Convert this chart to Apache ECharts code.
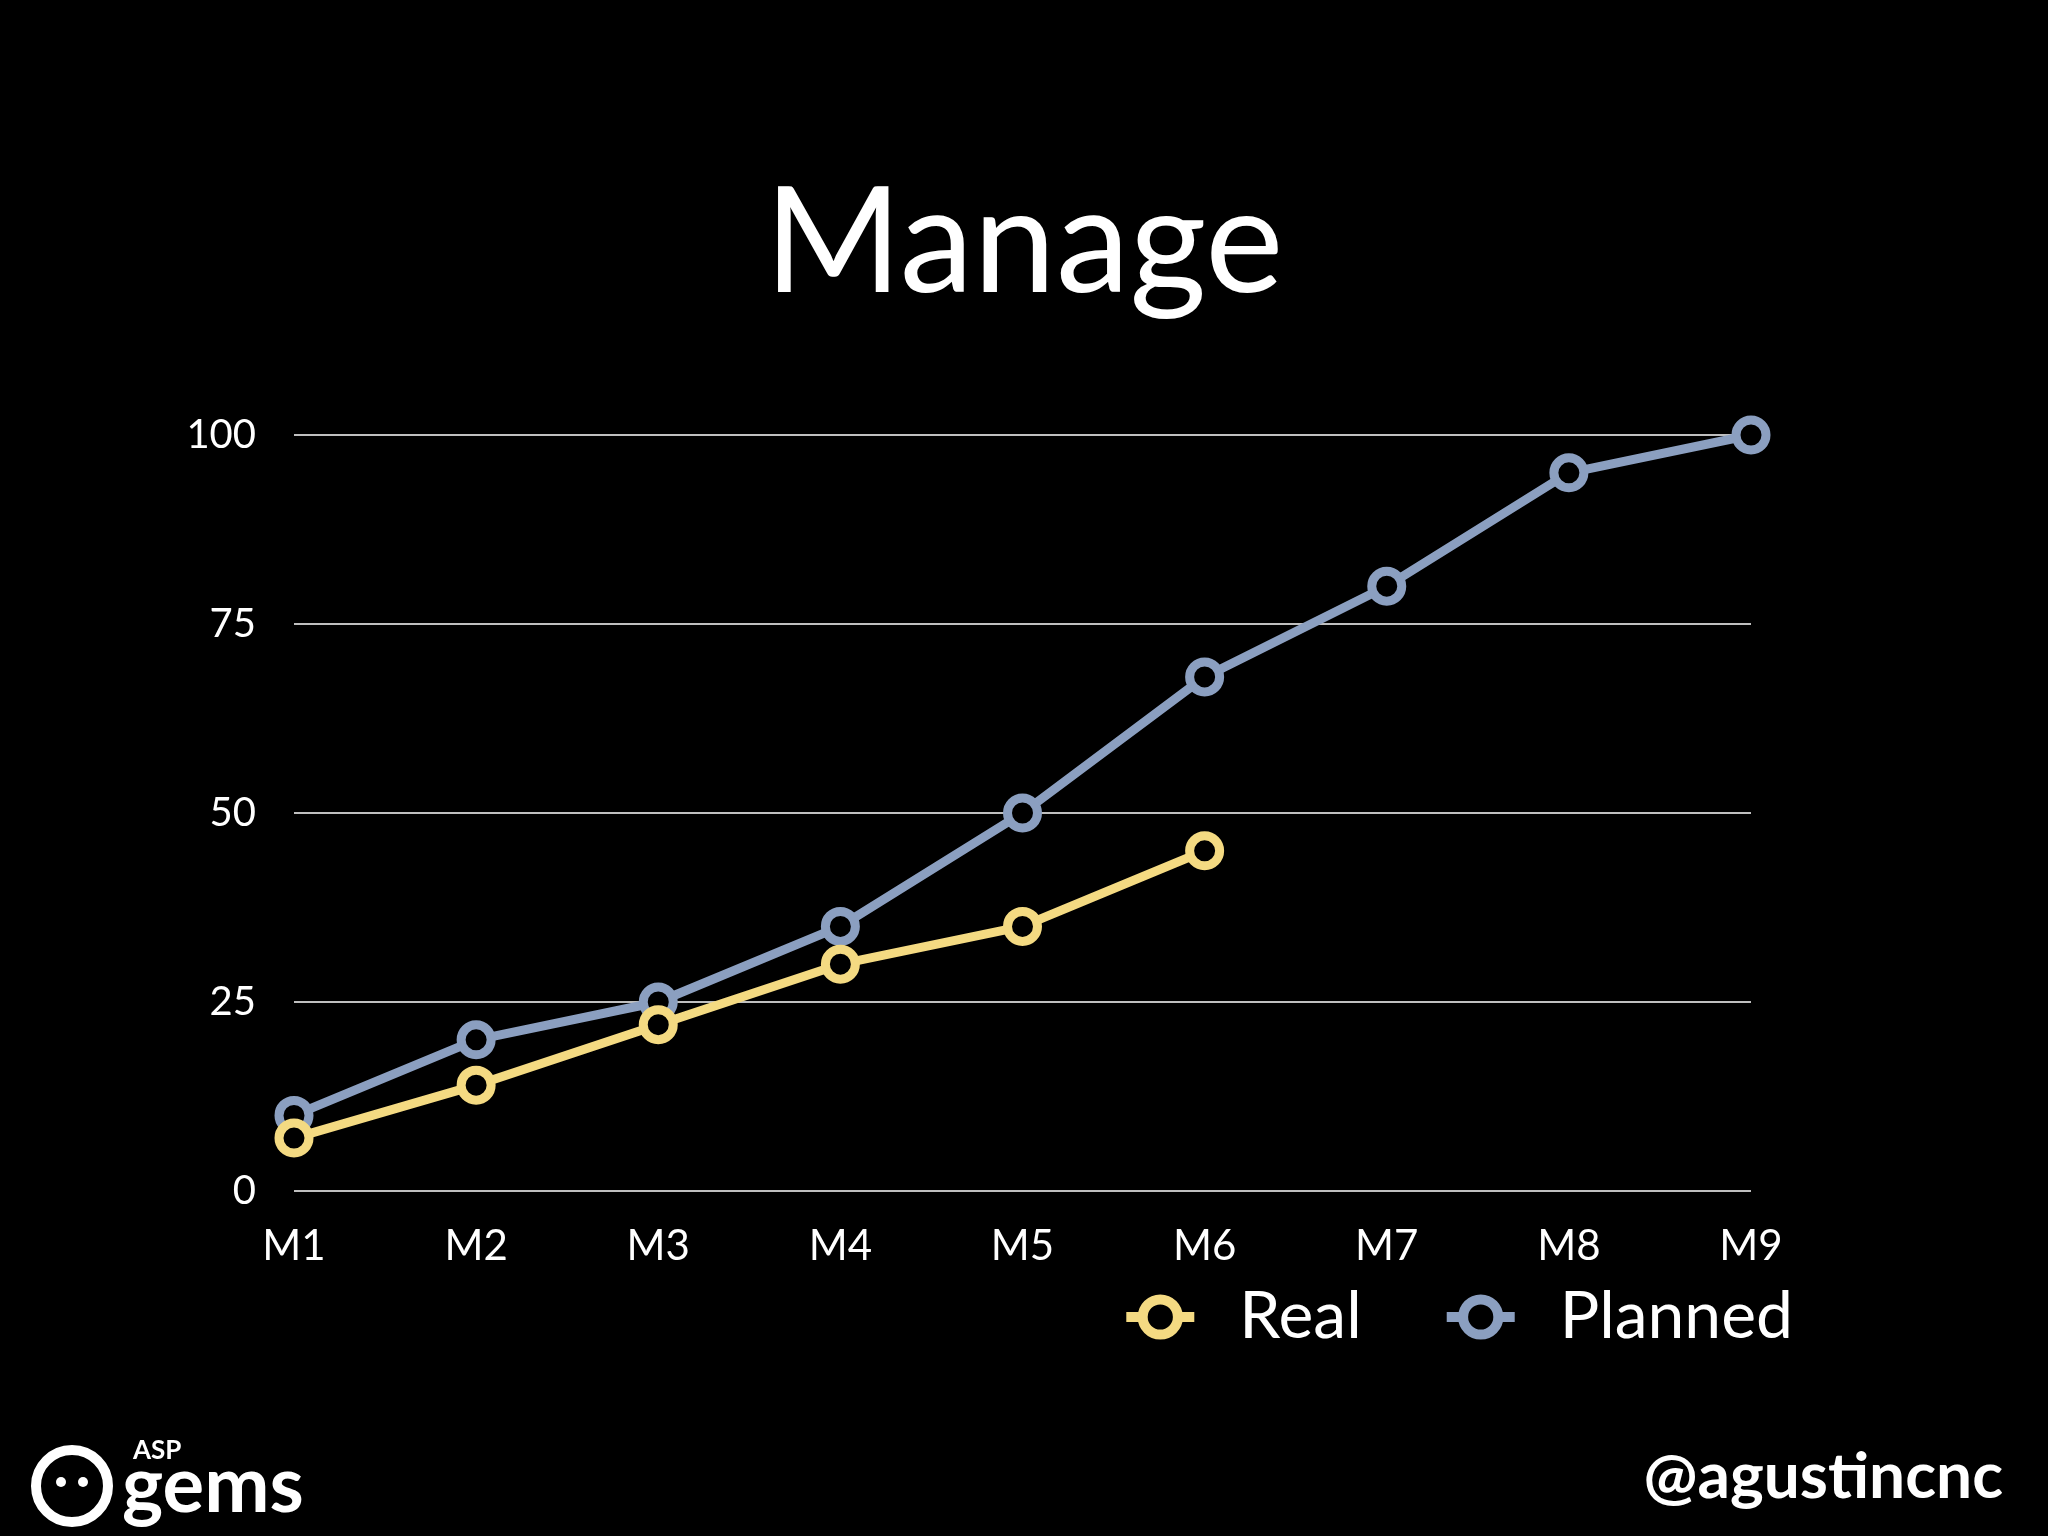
<!DOCTYPE html>
<html><head><meta charset="utf-8">
<script src="https://cdn.jsdelivr.net/npm/echarts@6/dist/echarts.min.js"></script>
<style>html,body{margin:0;background:#000}#c{width:2048px;height:1536px}</style>
</head><body><div id="c"></div>
<script>
const categories = ['M1','M2','M3','M4','M5','M6','M7','M8','M9'];
const realValues = [7,14,22,30,35,45];
const plannedValues = [10,20,25,35,50,68,80,95,100];
const yTicks = [0,25,50,75,100];

const chart = echarts.init(document.getElementById('c'));
const F = 'Lato, "Open Sans", sans-serif';
const ring = (color) => ({
  type:'line', symbol:'circle', symbolSize:30,
  lineStyle:{color, width:9},
  itemStyle:{color:'#000', borderColor:color, borderWidth:9},
});
chart.setOption({
  backgroundColor:'#000',
  animation:false,
  title:{text:'Manage', left:'center', top:165,
    textStyle:{color:'#fff', fontSize:148, fontWeight:'normal', fontFamily:F}},
  grid:{left:294, right:297, top:435, bottom:345},
  legend:{data:['Real','Planned'], right:250, top:1279, itemWidth:68, itemHeight:44, itemGap:80,
    lineStyle:{width:10}, itemStyle:{borderWidth:10},
    textStyle:{color:'#fff', fontSize:66, fontFamily:F, padding:[0,0,0,40]}},
  xAxis:{type:'category', data:categories, boundaryGap:false,
    axisLine:{show:false}, axisTick:{show:false},
    axisLabel:{color:'#fff', fontSize:42, fontFamily:F, margin:34}},
  yAxis:{type:'value', min:0, max:100, interval:25,
    axisLabel:{color:'#fff', fontSize:40, fontFamily:F, margin:38,
      formatter:v=>yTicks.includes(v)?String(v):''},
    splitLine:{lineStyle:{color:'#fff', width:1.5}}},
  series:[
    Object.assign(ring('#f4da82'), {name:'Real', data:realValues, z:3}),
    Object.assign(ring('#8b9fc0'), {name:'Planned', data:plannedValues, z:2})
  ],
  graphic:[
    {type:'circle', shape:{cx:72, cy:1486, r:36}, style:{fill:'none', stroke:'#fff', lineWidth:10}},
    {type:'circle', shape:{cx:61, cy:1482, r:5}, style:{fill:'#fff'}},
    {type:'circle', shape:{cx:83, cy:1482, r:5}, style:{fill:'#fff'}},
    {type:'text', left:133, top:1438, style:{text:'ASP', fill:'#fff', font:'bold 26px '+F}},
    {type:'text', left:122, top:1448, style:{text:'gems', fill:'#fff', font:'bold 78px '+F}},
    {type:'text', right:45, top:1445, style:{text:'@agustincnc', fill:'#fff', font:'bold 64px '+F}}
  ]
});
</script></body></html>
